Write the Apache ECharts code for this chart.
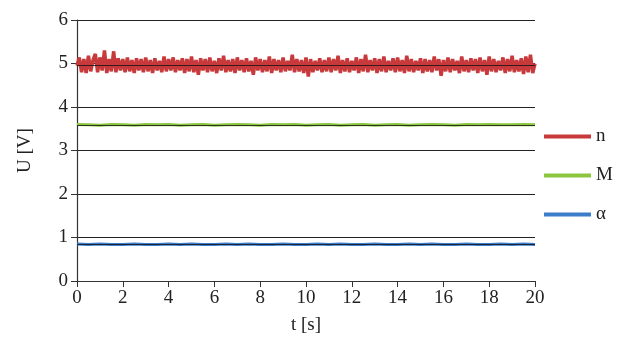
<!DOCTYPE html>
<html>
<head>
<meta charset="utf-8">
<script src="https://cdn.jsdelivr.net/npm/echarts@6/dist/echarts.min.js"></script>
<style>
  html, body { margin: 0; padding: 0; background: #fff; }
  #chart { width: 623px; height: 342px; }
</style>
</head>
<body>
<div id="chart"></div>
<script>
// n: sampled every 0.1 s, 0..20 s
const nStep = 0.1;
const nValues = [
  4.95, 5.14, 4.80, 5.10, 4.78, 5.18, 4.82, 5.08, 5.22, 4.80, 5.14, 4.84, 5.30, 4.78, 5.10, 4.82, 5.28, 4.80, 5.12, 4.84,
  5.10, 4.80, 5.14, 4.82, 5.08, 4.78, 5.12, 4.84, 5.10, 4.80, 5.14, 4.82, 5.08, 4.78, 5.12, 4.84, 5.06, 4.80, 5.16, 4.82,
  5.10, 4.84, 5.14, 4.80, 5.08, 4.84, 5.12, 4.78, 5.10, 4.82, 5.16, 4.80, 5.08, 4.74, 5.12, 4.84, 5.10, 4.80, 5.14, 4.82,
  5.06, 4.78, 5.12, 4.84, 5.18, 4.80, 5.08, 4.82, 5.10, 4.78, 5.14, 4.84, 5.08, 4.80, 5.12, 4.82, 5.06, 4.74, 5.14, 4.84,
  5.10, 4.80, 5.08, 4.82, 5.16, 4.78, 5.10, 4.84, 5.08, 4.80, 5.14, 4.82, 5.06, 4.84, 5.20, 4.80, 5.10, 4.82, 5.08, 4.78,
  5.14, 4.70, 5.10, 4.80, 5.06, 4.84, 5.12, 4.80, 5.08, 4.82, 5.14, 4.80, 5.10, 4.84, 5.18, 4.78, 5.08, 4.82, 5.12, 4.80,
  5.06, 4.84, 5.14, 4.78, 5.10, 4.82, 5.20, 4.80, 5.08, 4.84, 5.12, 4.78, 5.10, 4.82, 5.16, 4.80, 5.06, 4.84, 5.12, 4.80,
  5.14, 4.82, 5.08, 4.78, 5.18, 4.82, 5.10, 4.80, 5.06, 4.84, 5.12, 4.78, 5.10, 4.82, 5.08, 4.80, 5.16, 4.84, 5.10, 4.72,
  5.08, 4.82, 5.14, 4.80, 5.10, 4.84, 5.06, 4.78, 5.16, 4.82, 5.08, 4.80, 5.12, 4.84, 5.10, 4.78, 5.14, 4.82, 5.08, 4.74,
  5.16, 4.82, 5.10, 4.80, 5.06, 4.84, 5.14, 4.78, 5.10, 4.82, 5.18, 4.80, 5.08, 4.82, 5.12, 4.76, 5.16, 4.80, 5.20, 4.78,
  5.00
];

// M and alpha: sampled every 0.5 s, 0..20 s
const slowStep = 0.5;
const mValues = [
  3.60, 3.59, 3.58, 3.60, 3.59, 3.58, 3.60, 3.59, 3.60, 3.58, 3.59, 3.60, 3.58, 3.59, 3.60, 3.59, 3.58, 3.60, 3.59, 3.60,
  3.58, 3.59, 3.60, 3.58, 3.59, 3.60, 3.58, 3.59, 3.60, 3.58, 3.59, 3.60, 3.59, 3.58, 3.60, 3.59, 3.60, 3.59, 3.59, 3.60,
  3.59
];
const aValues = [
  0.85, 0.84, 0.85, 0.84, 0.84, 0.85, 0.84, 0.84, 0.85, 0.84, 0.85, 0.84, 0.84, 0.85, 0.84, 0.85, 0.84, 0.84, 0.85, 0.84,
  0.84, 0.85, 0.84, 0.85, 0.84, 0.84, 0.85, 0.84, 0.84, 0.85, 0.84, 0.85, 0.84, 0.84, 0.85, 0.84, 0.84, 0.85, 0.84, 0.85,
  0.84
];

const seriesNames = ['n', 'M', 'α'];
const seriesColors = ['#c8393b', '#8cc63f', '#3d7cc9'];
const xTicks = [0, 2, 4, 6, 8, 10, 12, 14, 16, 18, 20];
const yTicks = [0, 1, 2, 3, 4, 5, 6];

const toPairs = (vals, step) => vals.map((v, i) => [i * step, v]);

const font = '"Liberation Serif", "Times New Roman", Times, serif';
const avgLine = {
  silent: true,
  symbol: 'none',
  label: { show: false },
  lineStyle: { color: '#111', width: 0.8, type: 'solid' },
  data: [{ type: 'average' }]
};

const chart = echarts.init(document.getElementById('chart'));
chart.setOption({
  animation: false,
  backgroundColor: '#fff',
  grid: { left: 77, right: 88, top: 20, bottom: 61 },
  legend: {
    orient: 'vertical',
    left: 539,
    top: 122,
    itemGap: 20,
    itemWidth: 47,
    itemHeight: 4,
    icon: 'rect',
    textStyle: { fontFamily: font, fontSize: 19, color: '#222' },
    data: seriesNames
  },
  xAxis: {
    type: 'value',
    min: xTicks[0],
    max: xTicks[xTicks.length - 1],
    interval: 2,
    name: 't [s]',
    nameLocation: 'middle',
    nameGap: 35,
    nameTextStyle: { fontFamily: font, fontSize: 19, color: '#222' },
    axisLine: { lineStyle: { color: '#333', width: 1.2 } },
    axisTick: { show: true, length: 6, lineStyle: { color: '#333' } },
    axisLabel: { fontFamily: font, fontSize: 19, color: '#222', margin: 8 },
    splitLine: { show: false }
  },
  yAxis: {
    type: 'value',
    min: yTicks[0],
    max: yTicks[yTicks.length - 1],
    interval: 1,
    name: 'U [V]',
    nameLocation: 'middle',
    nameGap: 42,
    nameTextStyle: { fontFamily: font, fontSize: 19, color: '#222' },
    axisLine: { show: true, lineStyle: { color: '#333', width: 1.2 } },
    axisTick: { show: true, length: 6, lineStyle: { color: '#333' } },
    axisLabel: { fontFamily: font, fontSize: 19, color: '#222', margin: 9 },
    splitLine: { show: true, lineStyle: { color: '#222', width: 1 } }
  },
  series: [
    {
      name: seriesNames[0],
      type: 'line',
      data: toPairs(nValues, nStep),
      showSymbol: false,
      color: seriesColors[0],
      lineStyle: { width: 3.5, color: seriesColors[0] },
      markLine: avgLine
    },
    {
      name: seriesNames[1],
      type: 'line',
      data: toPairs(mValues, slowStep),
      showSymbol: false,
      color: seriesColors[1],
      lineStyle: { width: 3, color: seriesColors[1] },
      markLine: avgLine
    },
    {
      name: seriesNames[2],
      type: 'line',
      data: toPairs(aValues, slowStep),
      showSymbol: false,
      color: seriesColors[2],
      lineStyle: { width: 3, color: seriesColors[2] },
      markLine: avgLine
    }
  ]
});
</script>
</body>
</html>
